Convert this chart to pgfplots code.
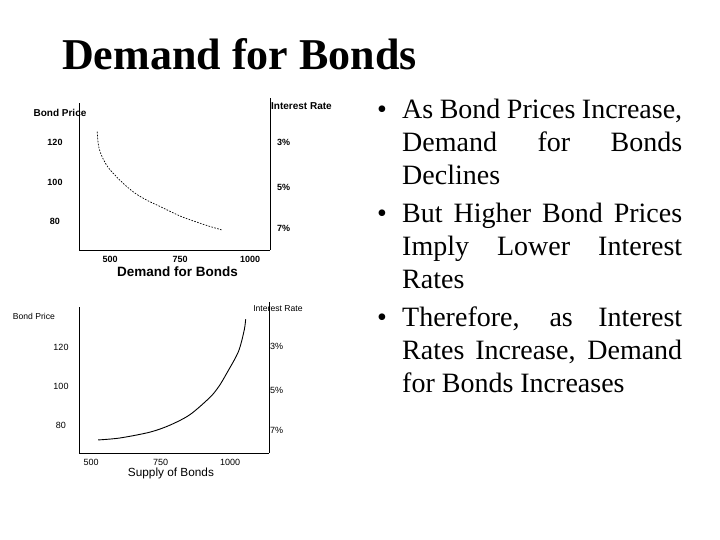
\documentclass[border=0pt]{standalone}
\usepackage{fontspec}
\setmainfont{Liberation Serif}
\newfontfamily\arial{Liberation Sans}
\usepackage{pgfplots}
\pgfplotsset{compat=1.18}

\pgfplotsset{
  slide axis/.style={
    scale only axis, anchor=south west,
    major tick length=0pt,
    axis line style={-, black, line width=0.9bp},
    x axis line style={-}, y axis line style={-},
  },
  bold small/.style={font=\arial\bfseries\fontsize{9bp}{10bp}\selectfont},
  plain small/.style={font=\arial\fontsize{9bp}{10bp}\selectfont},
}

\newcommand{\bline}[2]{\node[anchor=base west, inner sep=0pt] at (402bp,#1) {\makebox[280bp][s]{#2}};}
\newcommand{\lline}[2]{\node[anchor=base west, inner sep=0pt] at (402bp,#1) {#2};}
\newcommand{\bull}[1]{\node[anchor=base west, inner sep=0pt] at (377bp,#1) {\textbullet};}

\begin{document}
\begin{tikzpicture}
\fill[white] (0,0) rectangle (720bp,540bp);
\useasboundingbox (0,0) rectangle (720bp,540bp);

% title
\node[anchor=base west, inner sep=0pt, font=\bfseries\fontsize{44bp}{53bp}\selectfont] at (62bp,470bp) {Demand for Bonds};

% ---- demand chart ----
\begin{axis}[slide axis,
  at={(79bp,290bp)}, width=191bp, height=147bp,
  xmin=389, xmax=1071, ymin=65.8, ymax=140,
  axis x line*=bottom, axis y line*=left,
  xtick={500,750,1000}, xticklabels={500,750,1000},
  ytick={80,100,120}, yticklabels={80,100,120},
  ticklabel style={bold small, inner sep=0pt},
  xticklabel style={anchor=center, yshift=-9bp},
  yticklabel style={anchor=center, xshift=-24bp},
  xlabel={Demand for Bonds},
  every axis x label/.style={at={(rel axis cs:0.516,-0.15)}, anchor=center,
    font=\arial\bfseries\fontsize{13.5bp}{16bp}\selectfont},
  ylabel={Bond Price},
  every axis y label/.style={at={(rel axis cs:-0.0995,0.932)}, anchor=center,
    font=\arial\bfseries\fontsize{10bp}{12bp}\selectfont},
]
\addplot[black, line width=0.7bp, dash pattern=on 1.6bp off 1.4bp, smooth] coordinates {
  (454,125.5)(457,120)(464,115.5)(478,111)(494,107.3)(524,102.6)(559,97.9)
  (595,93.9)(636,90.6)(678,87.8)(720,84.9)(761,82.3)(803,80.2)(845,78.2)(899,75.9)
};
\end{axis}
\begin{axis}[slide axis,
  at={(79bp,290bp)}, width=191bp, height=152bp,
  xmin=0, xmax=1, ymin=65.8, ymax=142.6,
  hide x axis, axis y line*=right,
  ytick={76.9,97.6,120}, yticklabels={7\%,5\%,3\%},
  yticklabel style={bold small, anchor=west, inner sep=0pt, xshift=7bp},
  ylabel={Interest Rate},
  every axis y label/.style={at={(rel axis cs:1.005,0.947)}, anchor=west, inner sep=0pt,
    font=\arial\bfseries\fontsize{10bp}{12bp}\selectfont},
]
\end{axis}

% ---- supply chart ----
\begin{axis}[slide axis,
  at={(79bp,87bp)}, width=190bp, height=146bp,
  xmin=456.8, xmax=1140, ymin=65.6, ymax=140.5,
  axis x line*=bottom, axis y line*=left,
  xtick={500,750,1000}, xticklabels={500,750,1000},
  ytick={80,100,120}, yticklabels={80,100,120},
  ticklabel style={plain small, inner sep=0pt},
  xticklabel style={anchor=center, yshift=-9bp},
  yticklabel style={anchor=center, xshift=-18bp},
  xlabel={Supply of Bonds},
  every axis x label/.style={at={(rel axis cs:0.484,-0.137)}, anchor=center,
    font=\arial\fontsize{11.8bp}{14bp}\selectfont},
  ylabel={Bond Price},
  every axis y label/.style={at={(rel axis cs:-0.237,0.932)}, anchor=center,
    font=\arial\fontsize{8.6bp}{10bp}\selectfont},
]
\addplot[black, line width=0.9bp, smooth] coordinates {
  (526,72.3)(604,73.3)(712,76.3)(784,79.9)(856,85.3)(928,94.2)(960,99.8)
  (988,106.5)(1030,117.6)(1051,128.7)(1056,134.2)
};
\end{axis}
\begin{axis}[slide axis,
  at={(79bp,87bp)}, width=190bp, height=151bp,
  xmin=0, xmax=1, ymin=65.6, ymax=143,
  hide x axis, axis y line*=right,
  ytick={77.4,97.9,120}, yticklabels={7\%,5\%,3\%},
  yticklabel style={plain small, anchor=west, inner sep=0pt, xshift=1bp},
  ylabel={Interest Rate},
  every axis y label/.style={at={(rel axis cs:1.047,0.954)}, anchor=center, inner sep=0pt,
    font=\arial\fontsize{8.6bp}{10bp}\selectfont},
]
\end{axis}

% ---- bullets ----
\begin{scope}[font=\fontsize{28bp}{33bp}\selectfont]
\bull{421bp}
\bline{421bp}{As Bond Prices Increase,}
\bline{388bp}{Demand for Bonds}
\lline{355bp}{Declines}
\bull{317bp}
\bline{317bp}{But Higher Bond Prices}
\bline{284bp}{Imply Lower Interest}
\lline{251bp}{Rates}
\bull{213bp}
\bline{213bp}{Therefore, as Interest}
\bline{180bp}{Rates Increase, Demand}
\lline{147bp}{for Bonds Increases}
\end{scope}
\end{tikzpicture}
\end{document}
